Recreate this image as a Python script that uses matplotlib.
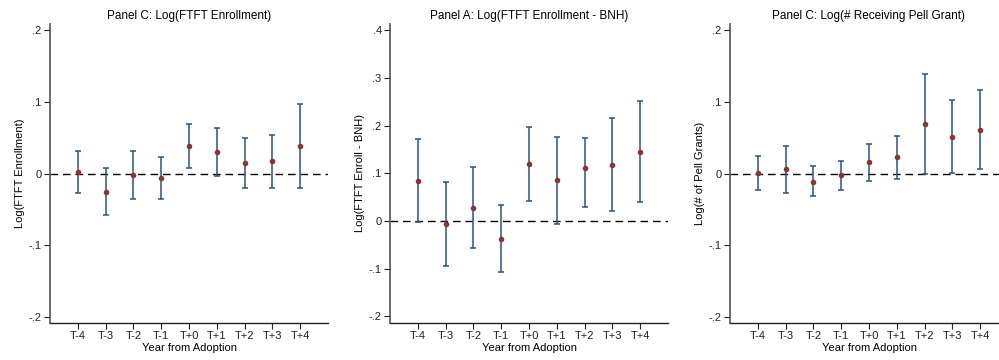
import matplotlib
matplotlib.use("Agg")
import matplotlib.pyplot as plt
import numpy as np

plt.rcParams['font.family'] = ['Liberation Sans', 'DejaVu Sans']

categories = ["T-4", "T-3", "T-2", "T-1", "T+0", "T+1", "T+2", "T+3", "T+4"]

# Panel 1: Log(FTFT Enrollment)
p1_est = [0.002, -0.026, -0.002, -0.0065, 0.038, 0.030, 0.0145, 0.017, 0.039]
p1_lo = [-0.0275, -0.058, -0.035, -0.036, 0.007, -0.0037, -0.020, -0.020, -0.020]
p1_hi = [0.032, 0.007, 0.031, 0.023, 0.0695, 0.063, 0.049, 0.0545, 0.0974]

# Panel 2: Log(FTFT Enrollment - BNH)
p2_est = [0.0845, -0.0056, 0.0272, -0.037, 0.1194, 0.085, 0.1117, 0.118, 0.145]
p2_lo = [-0.0014, -0.0935, -0.057, -0.1068, 0.0419, -0.007, 0.0286, 0.0216, 0.0398]
p2_hi = [0.1724, 0.0824, 0.113, 0.0328, 0.196, 0.177, 0.1745, 0.215, 0.252]

# Panel 3: Log(# Receiving Pell Grant)
p3_est = [0.0005, 0.006, -0.0117, -0.0023, 0.0154, 0.0224, 0.0695, 0.0517, 0.061]
p3_lo = [-0.0224, -0.027, -0.032, -0.0224, -0.0098, -0.0075, -0.0005, 0.001, 0.0056]
p3_hi = [0.0238, 0.0387, 0.0098, 0.0177, 0.0406, 0.0522, 0.1394, 0.1026, 0.117]

titles = ["Panel C: Log(FTFT Enrollment)",
          "Panel A: Log(FTFT Enrollment - BNH)",
          "Panel C: Log(# Receiving Pell Grant)"]
ylabels = ["Log(FTFT Enrollment)", "Log(FTFT Enroll - BNH)", "Log(# of Pell Grants)"]
yticks_list = [[-0.2, -0.1, 0, 0.1, 0.2],
               [-0.2, -0.1, 0, 0.1, 0.2, 0.3, 0.4],
               [-0.2, -0.1, 0, 0.1, 0.2]]
ytick_labels_list = [["-.2", "-.1", "0", ".1", ".2"],
                     ["-.2", "-.1", "0", ".1", ".2", ".3", ".4"],
                     ["-.2", "-.1", "0", ".1", ".2"]]
ylims = [(-0.209, 0.209), (-0.214, 0.413), (-0.209, 0.209)]

series = [(p1_est, p1_lo, p1_hi), (p2_est, p2_lo, p2_hi), (p3_est, p3_lo, p3_hi)]

navy = "#2a5580"
maroon = "#8f3236"

fig = plt.figure(figsize=(9.99, 3.6), dpi=100)
lefts = [50 / 999, 390 / 999, 730 / 999]
bottom = 1 - 323 / 360
height = (323 - 24) / 360
width = 278 / 999

x = np.arange(len(categories))
for i in range(3):
    ax = fig.add_axes([lefts[i], bottom, width, height])
    est, lo, hi = series[i]
    est = np.array(est); lo = np.array(lo); hi = np.array(hi)
    ax.axhline(0, color="black", linestyle=(0, (5.5, 3.5)), linewidth=1.0, zorder=1)
    ax.errorbar(x, est, yerr=[est - lo, hi - est], fmt="none", ecolor=navy,
                elinewidth=1.1, capsize=2.5, capthick=1.1, zorder=2)
    ax.plot(x, est, "o", color=maroon, markersize=4, zorder=3, markeredgewidth=0)
    ax.set_xlim(-1, 9)
    ax.set_ylim(*ylims[i])
    ax.set_xticks(x)
    ax.set_xticklabels(categories, fontsize=8)
    ax.set_yticks(yticks_list[i])
    ax.set_yticklabels(ytick_labels_list[i], fontsize=8)
    ax.set_title(titles[i], fontsize=8.5, pad=3.8)
    ax.set_xlabel("Year from Adoption", fontsize=8, labelpad=1.5)
    ax.set_ylabel(ylabels[i], fontsize=8, labelpad=2.5)
    for s in ["top", "right"]:
        ax.spines[s].set_visible(False)
    ax.spines["left"].set_color("#555555")
    ax.spines["left"].set_linewidth(1.2)
    ax.spines["bottom"].set_color("#222222")
    ax.spines["bottom"].set_linewidth(1.0)
    ax.tick_params(axis="both", direction="out", length=4, width=0.8, pad=2, colors="#222222")

fig.savefig("out.png", dpi=100)
